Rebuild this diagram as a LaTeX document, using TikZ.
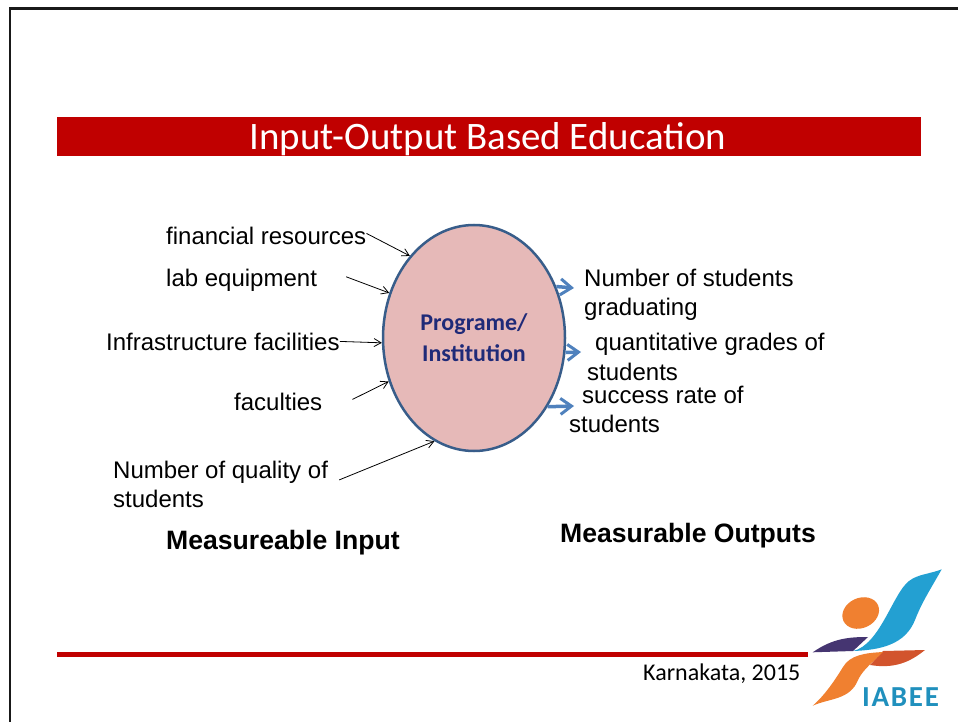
\documentclass[tikz,border=0pt]{standalone}
\usepackage{fontspec}
\setmainfont{Liberation Sans}
\newfontfamily\calibrifont{Carlito}
\usetikzlibrary{arrows.meta,positioning,shapes.geometric}
\definecolor{barred}{HTML}{C00000}
\definecolor{ovalfill}{HTML}{E6B9B8}
\definecolor{ovalline}{HTML}{385D8A}
\definecolor{outblue}{HTML}{4F81BD}
\definecolor{proglabel}{HTML}{1F2A78}
\definecolor{logoblue}{HTML}{23A0D2}
\definecolor{logoorange}{HTML}{F08030}
\definecolor{logopurple}{HTML}{453571}
\definecolor{logored}{HTML}{D2542D}
\tikzset{
  txt/.style={anchor=base west,inner sep=0pt,align=left,font=\fontsize{24}{29}\selectfont},
  head/.style={anchor=base west,inner sep=0pt,font=\fontsize{26.6}{30}\selectfont\bfseries},
  inarrow/.style={->,>={Straight Barb[length=7pt,width=8pt]},black,line width=0.8pt},
  outarrow/.style={-{Straight Barb[length=11pt,width=16pt,line width=3pt]},outblue,line width=3.5pt}
}
\begin{document}
\begin{tikzpicture}[x=1pt,y=-1pt]
	\useasboundingbox (0,0) rectangle (958,722);
	\draw[black!90,line width=2.5pt] (10,722) -- (10,8.5) -- (958,8.5);

	\fill[barred] (57,117) rectangle (921,156);
	\node[inner sep=0pt,white] (title) at (488,139) {\calibrifont\fontsize{38.9}{40}\selectfont Input-Output Based Education};

	\node[ellipse,draw=ovalline,fill=ovalfill,line width=2.5pt,minimum width=182pt,minimum height=226pt,inner sep=0pt,align=center,text=proglabel,font=\calibrifont\fontsize{24}{31}\selectfont\bfseries] (prog) at (474,338) {Programe/\\Institution};

	% inputs
	\node[txt] (in_1) at (166,244) {financial resources};
	\node[txt] (in_2) at (166,286) {lab equipment};
	\node[txt] (in_3) at (106,350) {Infrastructure facilities};
	\node[txt] (in_4) at (234,410) {faculties};
	\node[txt] (in_5) at (113,507) {Number of quality of\\students};

	\path[inarrow]
	([yshift=2pt]in_1.east) edge (prog.128)
	([xshift=29pt,yshift=3pt]in_2.east) edge (prog.152)
	(in_3.east) edge (prog.183)
	([xshift=30pt,yshift=2pt]in_4.east) edge (prog.207)
	([xshift=11pt,yshift=4pt]in_5.east) edge (prog.249);

	% outputs
	\node[txt] (out_1) at (584,315) {Number of students\\graduating};
	\node[txt] (out_2) at (595,350) {quantitative grades of};
	\node[txt] (out_2b) at (587,380) {students};
	\node[txt] (out_3) at (582,403) {success rate of};
	\node[txt] (out_3b) at (569,432) {students};

	\draw[outarrow] (prog.32) -- ([xshift=-10pt]out_1.west |- 0,288);
	\draw[outarrow] (prog.-9) -- ([xshift=-14pt]out_2.west |- 0,352);
	\draw[outarrow] (prog.-43) -- ([xshift=-8pt]out_3.west |- 0,406);

	\node[head] (in_head) at (166,549) {Measureable Input};
	\node[head] (out_head) at (560,542) {Measurable Outputs};

	\fill[barred] (57,652) rectangle (808,657);
	\node[anchor=base west,inner sep=0pt] (place) at (643,680) {\calibrifont\fontsize{24}{24}\selectfont Karnakata, 2015};

	% logo
	\fill[logoorange,rotate around={25:(860.7,613)}] (860.7,613) ellipse (19 and 15);
	\fill[logopurple] (812.7,652.3) .. controls (833,638) and (850,637) .. (868,637) -- (853,651) -- cycle;
	\fill[logoblue] (941.7,569.3) .. controls (930,574) and (918,574) .. (909,581) .. controls (893,593) and (880,645) .. (853,651) .. controls (880,650) and (905,645) .. (915,620) .. controls (922,602) and (930,590) .. cycle;
	\fill[logored] (925,650) -- (883,651) -- (870,665) .. controls (895,669) and (910,662) .. cycle;
	\fill[logoorange] (812.7,705.7) .. controls (830,698) and (850,700) .. (858,680) .. controls (862,672) and (866,668) .. (883,652) .. controls (865,653) and (850,655) .. (843,667) .. controls (835,680) and (825,695) .. cycle;
	\node[anchor=base west,inner sep=0pt,text=logoblue!90!black,font=\calibrifont\fontsize{29}{29}\selectfont\bfseries] (iabee) at (862,706) {\addfontfeature{LetterSpace=6}IABEE};
\end{tikzpicture}
\end{document}
